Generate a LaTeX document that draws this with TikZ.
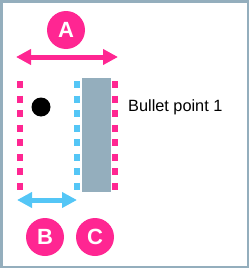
\documentclass[tikz,border=0pt]{standalone}
\usepackage{fontspec}
\setmainfont{Liberation Sans}
\usetikzlibrary{arrows.meta,positioning}
\definecolor{markpink}{RGB}{255,38,146}
\definecolor{markblue}{RGB}{84,198,246}
\definecolor{slategray}{RGB}{148,174,189}

\begin{document}
\begin{tikzpicture}[
  x=1pt,y=-1pt,
  every node/.style={font=\fontsize{16.3}{18}\selectfont},
  badge/.style={circle,fill=markpink,minimum size=38pt,inner sep=0pt,text=white,font=\fontsize{22}{24}\selectfont\bfseries},
  dots/.style={line width=5.5pt,dash pattern=on 7pt off 7.57pt},
  span/.style={line width=5pt,{Triangle[length=15pt,width=15pt]}-{Triangle[length=15pt,width=15pt]}}
]
\useasboundingbox (0,0) rectangle (249,268);
\draw[slategray,line width=2.5pt] (1.25,1.25) rectangle (247.75,266.75);
% column markers
\fill[slategray] (82,78) rectangle (111,192);
\coordinate (lt) at (20,81);  \coordinate (lb) at (20,190);
\coordinate (bt) at (77,81);  \coordinate (bb) at (77,190);
\coordinate (rt) at (115,81); \coordinate (rb) at (115,190);
\draw[dots,markpink] (lt)--(lb);
\draw[dots,markblue] (bt)--(bb);
\draw[dots,markpink] (rt)--(rb);
\node[circle,fill=black,minimum size=19pt,inner sep=0pt] (bullet) at (41,107) {};
\node[anchor=base west,inner sep=0pt] (item) at (128,111) {Bullet point 1};
% width arrows
\coordinate (al) at (16,57);  \coordinate (ar) at (118,57);
\coordinate (bl) at (17,200); \coordinate (br) at (77,200);
\draw[span,markpink] (al)--(ar);
\draw[span,markblue] (bl)--(br);
% labels
\node[badge] (labA) at (66,30) {A};
\node[badge] (labB) at (45,237) {B};
\node[badge] (labC) at (95,237) {C};
\end{tikzpicture}
\end{document}
